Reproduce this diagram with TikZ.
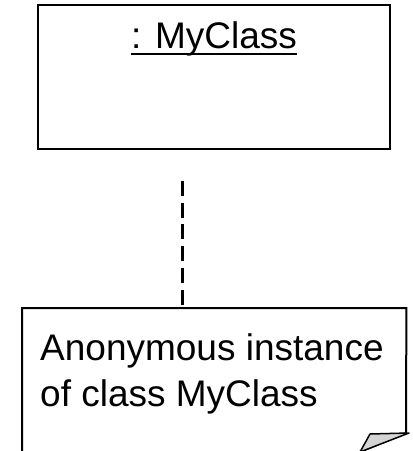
\documentclass[tikz,border=0pt]{standalone}
\usepackage{fontspec}
\setmainfont{Liberation Sans}
\begin{document}
\begin{tikzpicture}[x=1pt,y=-1pt,
  objbox/.style={draw, line width=2pt, minimum width=352pt, minimum height=144pt, inner sep=0pt},
  notebox/.style={minimum width=384pt, minimum height=170pt, inner sep=0pt, anchor=north west},
  txt/.style={font=\fontsize{37}{46}\selectfont, inner sep=0pt},
  link/.style={draw, line width=2.5pt, dash pattern=on 15pt off 6.7pt},
  noteline/.style={draw, line width=2pt},
  fold/.style={draw, fill=black!17, line width=1.5pt, line join=round}]
\useasboundingbox (0,0) rectangle (413,451);
\clip (0,0) rectangle (413,451);
% object box
\node[objbox] (cls) at (214,77) {};
\node[txt, anchor=base] (lbl) at (214,48) {: MyClass};
\draw[line width=2pt] ([yshift=-6pt]lbl.base west) -- ([yshift=-6pt]lbl.base east);
% note
\node[notebox] (note) at (22,308) {};
\draw[noteline] (note.south west) -- (note.north west) -- (note.north east)
  -- (406,433) coordinate (fb) -- (357,453);
\path[fold] (370,434) -- (409,433) -- (360,452) -- cycle;
\node[txt, anchor=base west] (l1) at (40,360) {Anonymous instance};
\node[txt, anchor=base west] (l2) at (40,406) {of class MyClass};
% connector
\coordinate (ctop) at (182.5,181);
\draw[link] (ctop) -- (ctop |- note.north);
\end{tikzpicture}
\end{document}
